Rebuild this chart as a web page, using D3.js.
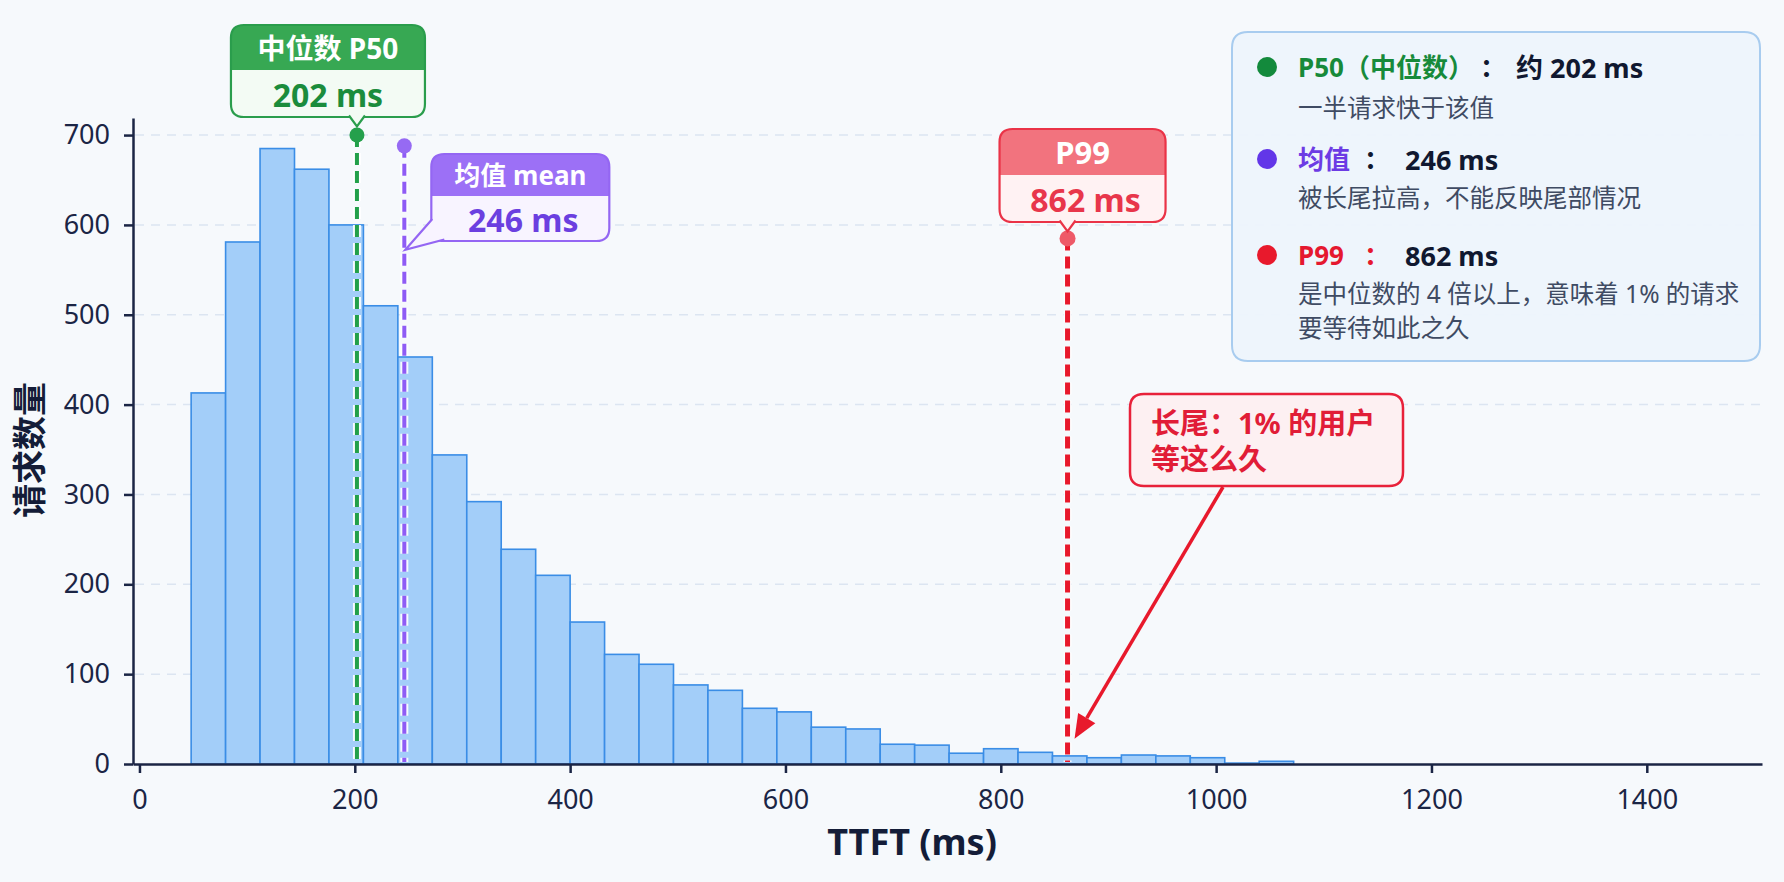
<!DOCTYPE html>
<html>
<head>
<meta charset="utf-8">
<script src="https://cdn.jsdelivr.net/npm/d3@7"></script>
<style>
	body { margin: 0; background: #f6f9fc; }
	svg { display: block; }
</style>
</head>
<body>
<script>
// histogram data (TTFT, ms)
var bin_edges = [48, 80, 112, 144, 176, 208, 240, 272, 304, 336, 368, 400, 432, 464, 496, 528, 560,
	592, 624, 656, 688, 720, 752, 784, 816, 848, 880, 912, 944, 976, 1008, 1040, 1072, 1104];
var bin_counts = [413, 581, 685, 662, 600, 510, 453, 344, 292, 239, 210, 158, 122, 111, 88, 82, 62,
	58, 41, 39, 22, 21, 12, 17, 13, 9, 7, 10, 9, 7, 1, 0, 3];
var x_ticks = [0, 200, 400, 600, 800, 1000, 1200, 1400];
var y_ticks = [0, 100, 200, 300, 400, 500, 600, 700];

// statistics
var stat_values = [202, 246, 862];
var stat_titles = ["中位数 P50", "均值 mean", "P99"];
var legend_titles = ["P50（中位数）", "均值", "P99"];
var legend_prefix = ["约 ", "", ""];
var legend_notes = [["一半请求快于该值"], ["被长尾拉高，不能反映尾部情况"], ["是中位数的 4 倍以上，意味着 1% 的请求", "要等待如此之久"]];
var tail_note = ["长尾：1% 的用户", "等这么久"];

// layout / style
var W = 1784, H = 882;
var font = "'Noto Sans', 'Noto Sans CJK SC', sans-serif";
var ink = "#1b2545";
var line_colors = ["#22a04a", "#8f5cf5", "#e8192c"];
var dot_colors = ["#25a04c", "#966af3", "#ee5a68"];
var head_colors = ["#37a853", "#9c70f6", "#f2737e"];
var body_colors = ["#f3fbf4", "#f8f4ff", "#fff2f3"];
var edge_colors = ["#2a9d4c", "#9466f3", "#ea3347"];
var value_colors = ["#1b8c3c", "#6b3fe0", "#e8364b"];
var label_colors = ["#178a3a", "#6c3be4", "#e5182f"];
var legend_dots = ["#138a3c", "#6236e8", "#e8192c"];
var head_sizes = [28, 26, 31];
var marker_top = [700, 688, 585];		// dot height (count units)
var box_dx = [-126, 27, -68], box_w = [194, 178, 166];
var box_top = [25, 154, 129], box_mid = [70, 196, 175], box_bottom = [117, 241, 222];

var svg = d3.select("body").append("svg")
	.attr("width", W)
	.attr("height", H)
	.style("font-family", font);

svg.append("rect").attr("width", W).attr("height", H).attr("fill", "#f6f9fc");

var x = d3.scaleLinear().domain([-6, 1507]).range([133, 1762]);
var y = d3.scaleLinear().domain([0, 719]).range([764, 118]);

// grid
svg.append("g").selectAll("line")
	.data(y_ticks.filter(function(d){ return d > 0; }))
	.enter().append("line")
	.attr("x1", 135).attr("x2", 1762)
	.attr("y1", function(d){ return y(d); })
	.attr("y2", function(d){ return y(d); })
	.attr("stroke", "#dce5f1")
	.attr("stroke-width", 1.5)
	.attr("stroke-dasharray", "9,7");

// bars
svg.append("g").selectAll("rect")
	.data(bin_counts)
	.enter().append("rect")
	.filter(function(d){ return d > 0; })
	.attr("x", function(d, i){ return x(bin_edges[i]); })
	.attr("width", function(d, i){ return x(bin_edges[i + 1]) - x(bin_edges[i]); })
	.attr("y", function(d){ return y(d); })
	.attr("height", function(d){ return y(0) - y(d); })
	.attr("fill", "#a3cef9")
	.attr("stroke", "#3a8de6")
	.attr("stroke-width", 1.6);

// axes
var x_axis = svg.append("g")
	.attr("transform", "translate(0," + y(0) + ")")
	.call(d3.axisBottom(x).tickValues(x_ticks).tickFormat(d3.format("d"))
		.tickSize(9).tickSizeOuter(0).tickPadding(17));
var y_axis = svg.append("g")
	.attr("transform", "translate(133,0)")
	.call(d3.axisLeft(y).tickValues(y_ticks).tickFormat(d3.format("d"))
		.tickSize(9).tickSizeOuter(0).tickPadding(14));
[x_axis, y_axis].forEach(function(g){
	g.attr("font-family", font).attr("font-size", 27);
	g.select(".domain").attr("stroke", ink).attr("stroke-width", 2.5);
	g.selectAll(".tick line").attr("stroke", ink).attr("stroke-width", 2.5);
	g.selectAll(".tick text").attr("fill", ink);
});

// axis titles
svg.append("text")
	.attr("x", 912).attr("y", 855)
	.attr("text-anchor", "middle")
	.attr("font-size", 36).attr("font-weight", "bold")
	.attr("fill", "#141d38")
	.text("TTFT (ms)");
svg.append("text")
	.attr("transform", "translate(29,450) rotate(-90)")
	.attr("text-anchor", "middle")
	.attr("dominant-baseline", "central")
	.attr("font-size", 34).attr("font-weight", "bold")
	.attr("fill", "#141d38")
	.text("请求数量");

// rounded rect path (top radius / bottom radius)
function rr_path(x0, y0, w, h, rt, rb){
	return "M" + (x0 + rt) + "," + y0 + "H" + (x0 + w - rt) +
		"Q" + (x0 + w) + "," + y0 + " " + (x0 + w) + "," + (y0 + rt) +
		"V" + (y0 + h - rb) +
		"Q" + (x0 + w) + "," + (y0 + h) + " " + (x0 + w - rb) + "," + (y0 + h) +
		"H" + (x0 + rb) +
		"Q" + x0 + "," + (y0 + h) + " " + x0 + "," + (y0 + h - rb) +
		"V" + (y0 + rt) +
		"Q" + x0 + "," + y0 + " " + (x0 + rt) + "," + y0 + "Z";
}

// dashed stat lines + dots + labels
stat_values.forEach(function(v, i){
	var lx = x(v);
	var g = svg.append("g");
	g.append("line")		// white halo
		.attr("x1", lx).attr("x2", lx)
		.attr("y1", y(marker_top[i])).attr("y2", y(0) - 2)
		.attr("stroke", "#ffffff").attr("stroke-opacity", 0.9)
		.attr("stroke-width", 8)
		.attr("stroke-dasharray", "12,6");
	g.append("line")
		.attr("x1", lx).attr("x2", lx)
		.attr("y1", y(marker_top[i])).attr("y2", y(0) - 2)
		.attr("stroke", line_colors[i])
		.attr("stroke-width", i === 2 ? 5 : 4)
		.attr("stroke-dasharray", "12,6");
	g.append("circle")
		.attr("cx", lx).attr("cy", y(marker_top[i]))
		.attr("r", i === 2 ? 8 : 7.5)
		.attr("fill", dot_colors[i]);

	var bx = lx + box_dx[i], bw = box_w[i];
	var bt = box_top[i], bm = box_mid[i], bb = box_bottom[i];
	g.append("path").attr("d", rr_path(bx, bt, bw, bm - bt, 13, 0)).attr("fill", head_colors[i]);
	g.append("path").attr("d", rr_path(bx, bm, bw, bb - bm, 0, 13)).attr("fill", body_colors[i]);
	g.append("path").attr("d", rr_path(bx, bt, bw, bb - bt, 13, 13))
		.attr("fill", "none").attr("stroke", edge_colors[i]).attr("stroke-width", 2.2);
	// pointer
	var tail;
	if(i === 1){
		tail = "M" + (bx + 1) + "," + (bb - 22) + "L" + (lx + 1) + "," + (y(marker_top[i]) + 104) + "L" + (bx + 13) + "," + (bb - 1.5);
	}else{
		tail = "M" + (lx - 8) + "," + (bb - 1.5) + "L" + lx + "," + (bb + 9.5) + "L" + (lx + 8) + "," + (bb - 1.5);
	}
	g.append("path").attr("d", tail)
		.attr("fill", body_colors[i]).attr("stroke", edge_colors[i]).attr("stroke-width", 2.2);

	g.append("text")
		.attr("x", bx + bw / 2).attr("y", (bt + bm) / 2)
		.attr("text-anchor", "middle").attr("dominant-baseline", "central")
		.attr("font-size", head_sizes[i]).attr("font-weight", "bold")
		.attr("fill", "#ffffff")
		.text(stat_titles[i]);
	g.append("text")
		.attr("x", bx + bw / 2 + (i === 0 ? 0 : 3)).attr("y", (bm + bb) / 2 + 1)
		.attr("text-anchor", "middle").attr("dominant-baseline", "central")
		.attr("font-size", 32).attr("font-weight", "bold")
		.attr("fill", value_colors[i])
		.text(v + " ms");
});

// long tail note
var note = svg.append("g");
note.append("path").attr("d", rr_path(1130, 394, 273, 92, 14, 14))
	.attr("fill", "#fdf0f2").attr("stroke", "#e8213a").attr("stroke-width", 2.5);
tail_note.forEach(function(t, i){
	note.append("text")
		.attr("x", 1151).attr("y", 434 + i * 36)
		.attr("font-size", 29).attr("font-weight", "bold")
		.attr("fill", "#e11d37")
		.text(t);
});
var a_x0 = 1223, a_y0 = 487;
var a_x1 = x(stat_values[2]) + 7, a_y1 = y(28);
var ang = Math.atan2(a_y1 - a_y0, a_x1 - a_x0);
var head_len = 24, head_w = 10;
var hx = a_x1 - head_len * Math.cos(ang), hy = a_y1 - head_len * Math.sin(ang);
note.append("line")
	.attr("x1", a_x0).attr("y1", a_y0).attr("x2", hx).attr("y2", hy)
	.attr("stroke", "#e8192c").attr("stroke-width", 3.5);
note.append("path")
	.attr("d", "M" + a_x1 + "," + a_y1 +
		"L" + (hx + head_w * Math.sin(ang)) + "," + (hy - head_w * Math.cos(ang)) +
		"L" + (hx - head_w * Math.sin(ang)) + "," + (hy + head_w * Math.cos(ang)) + "Z")
	.attr("fill", "#e8192c");

// legend box
var legend = svg.append("g");
legend.append("path").attr("d", rr_path(1232, 32, 528, 329, 16, 16))
	.attr("fill", "#edf4fc").attr("fill-opacity", 0.95)
	.attr("stroke", "#a8ccef").attr("stroke-width", 2);
var title_y = [67, 159, 255];
var colon_x = [1493, 1377, 1377], value_x = [1516, 1405, 1405];
var note_y = [[107], [197], [293, 327]];
legend_titles.forEach(function(t, i){
	legend.append("circle")
		.attr("cx", 1267).attr("cy", title_y[i]).attr("r", 10)
		.attr("fill", legend_dots[i]);
	legend.append("text")
		.attr("x", 1298).attr("y", title_y[i])
		.attr("dominant-baseline", "central")
		.attr("font-size", 26).attr("font-weight", "bold")
		.attr("fill", label_colors[i])
		.text(t);
	legend.append("text")
		.attr("x", colon_x[i]).attr("y", title_y[i])
		.attr("text-anchor", "middle").attr("dominant-baseline", "central")
		.attr("font-size", 26).attr("font-weight", "bold")
		.attr("fill", i === 2 ? label_colors[i] : "#101830")
		.text("：");
	legend.append("text")
		.attr("x", value_x[i]).attr("y", title_y[i])
		.attr("dominant-baseline", "central")
		.attr("font-size", 27).attr("font-weight", "bold")
		.attr("fill", "#101830")
		.text(legend_prefix[i] + stat_values[i] + " ms");
	legend_notes[i].forEach(function(n, j){
		legend.append("text")
			.attr("x", 1298).attr("y", note_y[i][j])
			.attr("dominant-baseline", "central")
			.attr("font-size", 24.5)
			.attr("fill", "#3f4b63")
			.text(n);
	});
});
</script>
</body>
</html>
